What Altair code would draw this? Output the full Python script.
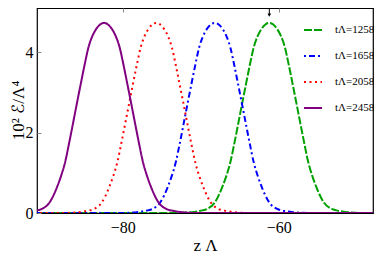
import altair as alt
import pandas as pd

series = ["tΛ=1258", "tΛ=1658", "tΛ=2058", "tΛ=2458"]
colors = ["#00a000", "#0000ff", "#ff0000", "#800080"]
dashes = [[8, 2], [2, 3, 6, 3], [2, 3.5], [1, 0]]

# energy density profile values (10^2 E / Lambda^4)
e_vals = [0, 0, 0.02, 0.05, 0.10, 0.26, 0.66, 0.93, 1.26, 1.72, 2.21, 2.71, 3.20, 3.68,
          4.12, 4.40, 4.58, 4.69, 4.73, 4.69, 4.58, 4.40, 4.12, 3.68, 3.20, 2.71, 2.21,
          1.72, 1.26, 0.93, 0.66, 0.26, 0.10, 0.05, 0.02, 0, 0]

z_1258 = [-92, -73.2, -71.2, -70.2, -69.2, -68.2, -67.2, -66.7, -66.2, -65.7, -65.2, -64.7,
          -64.2, -63.7, -63.2, -62.7, -62.2, -61.7, -61.2, -60.7, -60.2, -59.7, -59.2, -58.7,
          -58.2, -57.7, -57.2, -56.7, -56.2, -55.7, -55.2, -54.2, -53.2, -52.2, -51.2, -49.2, -46]
z_1658 = [-92, -80.2, -78.2, -77.2, -76.2, -75.2, -74.2, -73.7, -73.2, -72.7, -72.2, -71.7,
          -71.2, -70.7, -70.2, -69.7, -69.2, -68.7, -68.2, -67.7, -67.2, -66.7, -66.2, -65.7,
          -65.2, -64.7, -64.2, -63.7, -63.2, -62.7, -62.2, -61.2, -60.2, -59.2, -58.2, -56.2, -46]
z_2058 = [-92, -87.7, -85.7, -84.7, -83.7, -82.7, -81.7, -81.2, -80.7, -80.2, -79.7, -79.2,
          -78.7, -78.2, -77.7, -77.2, -76.7, -76.2, -75.7, -75.2, -74.7, -74.2, -73.7, -73.2,
          -72.7, -72.2, -71.7, -71.2, -70.7, -70.2, -69.7, -68.7, -67.7, -66.7, -65.7, -63.7, -46]
z_2458 = [-96, -94.4, -92.4, -91.4, -90.4, -89.4, -88.4, -87.9, -87.4, -86.9, -86.4, -85.9,
          -85.4, -84.9, -84.4, -83.9, -83.4, -82.9, -82.4, -81.9, -81.4, -80.9, -80.4, -79.9,
          -79.4, -78.9, -78.4, -77.9, -77.4, -76.9, -76.4, -75.4, -74.4, -73.4, -72.4, -70.4, -46]

x_ticks = [-80, -60]
y_ticks = [0, 2, 4]
arrow_z = [-61.2]
arrow_top = [5.08]
arrow_tip = [4.92]

rows = []
for name, zs in zip(series, [z_1258, z_1658, z_2058, z_2458]):
    for z, e in zip(zs, e_vals):
        rows.append({"series": name, "z": z, "E": e})
df = pd.DataFrame(rows)
arrow_df = pd.DataFrame({"z": arrow_z, "top": arrow_top, "tip": arrow_tip})

xscale = alt.Scale(domain=[-91, -47.9], nice=False, zero=False)
yscale = alt.Scale(domain=[0, 5.1], nice=False, zero=False)
FONT = "Liberation Serif"

lines = alt.Chart(df).mark_line(strokeWidth=2, clip=True, interpolate="monotone").encode(
    x=alt.X("z:Q", scale=xscale,
            axis=alt.Axis(values=x_ticks, title="z Λ", titleFontSize=17, titleY=32,
                          titleBaseline="middle", labelPadding=6)),
    y=alt.Y("E:Q", scale=yscale,
            axis=alt.Axis(values=y_ticks, title="10² ℰ/Λ⁴", titleFontSize=17, titleX=-19,
                          titleY=102, titleBaseline="middle", labelPadding=4,
                          titleFont="Liberation Serif, DejaVu Sans")),
    color=alt.Color("series:N", scale=alt.Scale(domain=series, range=colors),
                    legend=alt.Legend(title=None, orient="none", legendX=266, legendY=12,
                                      symbolType="stroke", symbolSize=324,
                                      symbolStrokeWidth=2, labelFont=FONT, labelFontSize=11,
                                      labelColor="black", labelOffset=12, rowPadding=11,
                                      padding=0)),
    strokeDash=alt.StrokeDash("series:N", scale=alt.Scale(domain=series, range=dashes),
                              legend=None),
    detail="series:N",
)

arrow_line = alt.Chart(arrow_df).mark_rule(color="black", strokeWidth=1).encode(
    x=alt.X("z:Q", scale=xscale), y=alt.Y("top:Q", scale=yscale), y2="tip:Q")
arrow_head = alt.Chart(arrow_df).mark_point(shape="triangle-down", filled=True, color="black",
                                            size=14, opacity=1).encode(
    x=alt.X("z:Q", scale=xscale), y=alt.Y("tip:Q", scale=yscale))

chart = alt.layer(lines, arrow_line, arrow_head).properties(
    width=336, height=205,
    autosize=alt.AutoSizeParams(type="none"),
    padding={"left": 29, "top": 0, "right": 1, "bottom": 41},
).configure_view(stroke="black", strokeWidth=1.2).configure_axis(
    domain=False, ticks=False, grid=True, gridDash=[4, 1000], gridColor="#888",
    gridWidth=1, labelFont=FONT, labelFontSize=16, labelColor="black",
    titleFont=FONT, titleColor="black", titleFontWeight="normal",
).configure_legend(labelFont=FONT)

chart.save("out.html", embed_options={"renderer": "svg", "actions": False})
